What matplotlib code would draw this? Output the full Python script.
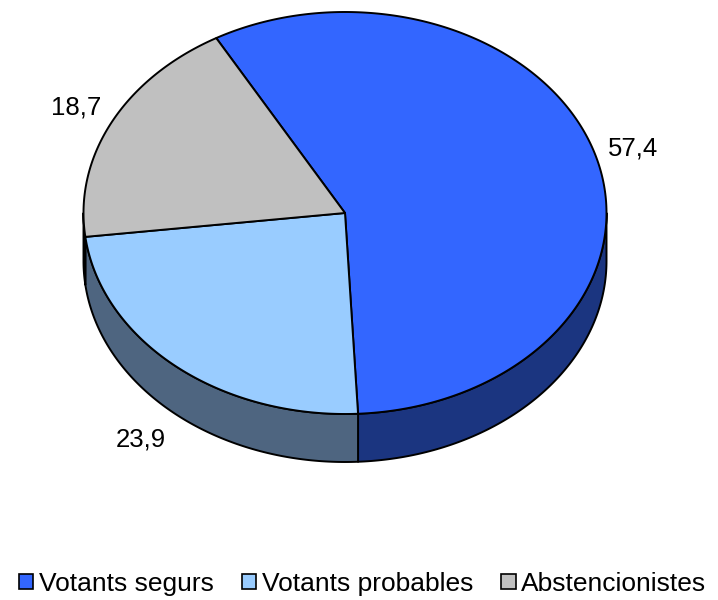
import numpy as np
import matplotlib
matplotlib.use('Agg')
import matplotlib.pyplot as plt
from matplotlib.patches import Polygon, Patch

# data
categories = ['Votants segurs', 'Votants probables', 'Abstencionistes']
values = [57.4, 23.9, 18.7]
labels = ['57,4', '23,9', '18,7']
top_colors = ['#3366FF', '#99CCFF', '#C0C0C0']
side_colors = ['#1B3580', '#4E6580', '#606060']

plt.rcParams['font.family'] = ['Liberation Sans', 'DejaVu Sans']

W, H = 718, 600
fig = plt.figure(figsize=(W / 100, H / 100), dpi=100)
ax = fig.add_axes([0, 0, 1, 1])
ax.set_xlim(0, W)
ax.set_ylim(H, 0)
ax.axis('off')

# pie geometry (pixel units)
cx, cy = 345, 213
ra, rb = 261.5, 201
depth = 48
start = 119.5
edge_kw = dict(edgecolor='black', linewidth=1.4, joinstyle='round')


def ell(theta, dy=0.0):
    t = np.radians(theta)
    return cx + ra * np.cos(t), cy - rb * np.sin(t) + dy


total = sum(values)
spans = []
a0 = start
for v in values:
    a1 = a0 - v / total * 360.0
    spans.append((a1, a0))
    a0 = a1

# side walls (front half only: angles between -180 and 0)
for (lo, hi), sc in zip(spans, side_colors):
    for shift in (0, -360, 360):
        s_lo = max(lo + shift, -180)
        s_hi = min(hi + shift, 0)
        if s_hi <= s_lo:
            continue
        th = np.linspace(s_lo, s_hi, 120)
        xt, yt = ell(th)
        xb, yb = ell(th[::-1], depth)
        pts = np.column_stack([np.r_[xt, xb], np.r_[yt, yb]])
        ax.add_patch(Polygon(pts, closed=True, facecolor=sc, **edge_kw))

# top face
for (lo, hi), tc in zip(spans, top_colors):
    th = np.linspace(lo, hi, 300)
    xs, ys = ell(th)
    pts = np.column_stack([np.r_[cx, xs], np.r_[cy, ys]])
    ax.add_patch(Polygon(pts, closed=True, facecolor=tc, **edge_kw))

# value labels, outside the rim
for (lo, hi), lab in zip(spans, labels):
    mid = np.radians((lo + hi) / 2)
    right = np.cos(mid) >= 0
    lx = cx + ra * np.cos(mid) + (12 if right else -10)
    ly = cy - 1.16 * rb * np.sin(mid)
    if np.sin(mid) < 0:
        ly += depth
    ax.text(lx, ly, lab, fontsize=18.5, ha='left' if right else 'right',
            va='center')

handles = [Patch(facecolor=c, edgecolor='black', linewidth=1.2) for c in top_colors]
ax.legend(handles, categories, loc='center', bbox_to_anchor=(0.505, 0.027),
          ncol=3, frameon=False, fontsize=19, handlelength=0.55,
          handleheight=0.55, handletextpad=0.22, columnspacing=1.05,
          borderpad=0, borderaxespad=0)

fig.savefig('out.png', dpi=100)
